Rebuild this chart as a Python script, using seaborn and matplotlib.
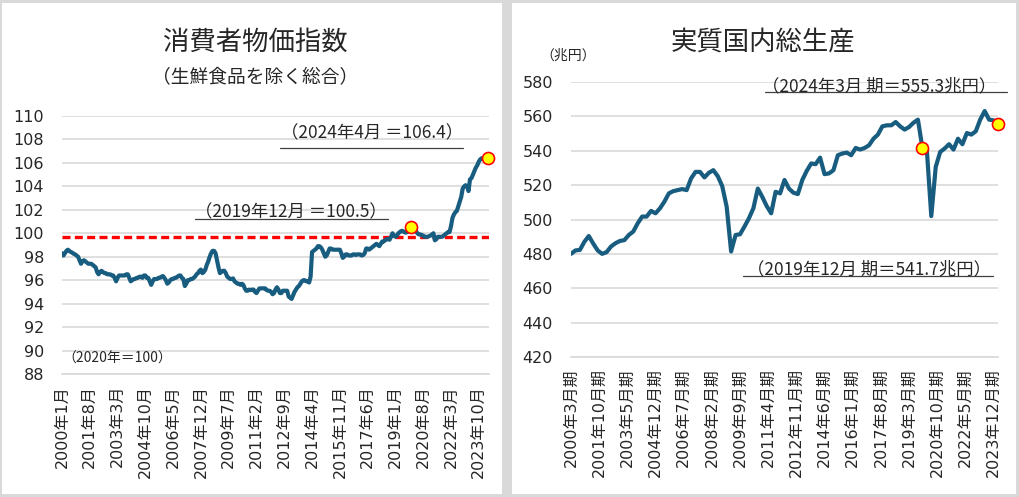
import pandas as pd
import matplotlib
matplotlib.use('Agg')
import matplotlib.pyplot as plt
import seaborn as sns
from matplotlib.patches import Rectangle

# 消費者物価指数（生鮮食品を除く総合, 2020年=100）月次 2000年1月〜2024年4月
cpi_2000 = [98.3, 98.1, 98.3, 98.5, 98.6, 98.5, 98.4, 98.35, 98.25, 98.2, 98.1, 98.0]
cpi_2001 = [97.7, 97.4, 97.6, 97.7, 97.6, 97.5, 97.4, 97.4, 97.4, 97.3, 97.2, 97.1]
cpi_2002 = [96.7, 96.5, 96.7, 96.8, 96.7, 96.6, 96.6, 96.5, 96.5, 96.5, 96.4, 96.4]
cpi_2003 = [96.2, 95.9, 96.2, 96.4, 96.4, 96.4, 96.4, 96.4, 96.5, 96.5, 96.2, 95.9]
cpi_2004 = [96.0, 96.1, 96.1, 96.2, 96.2, 96.3, 96.3, 96.2, 96.4, 96.4, 96.2, 96.2]
cpi_2005 = [95.9, 95.6, 95.9, 96.1, 96.1, 96.1, 96.2, 96.2, 96.3, 96.35, 96.2, 96.0]
cpi_2006 = [95.7, 95.8, 96.0, 96.1, 96.1, 96.2, 96.2, 96.3, 96.4, 96.4, 96.2, 96.1]
cpi_2007 = [95.5, 95.7, 96.0, 96.0, 96.1, 96.1, 96.2, 96.3, 96.5, 96.6, 96.8, 96.9]
cpi_2008 = [96.6, 96.7, 96.9, 97.3, 97.6, 98.0, 98.3, 98.5, 98.5, 98.3, 97.7, 97.1]
cpi_2009 = [96.6, 96.7, 96.8, 96.8, 96.6, 96.3, 96.2, 96.1, 96.1, 96.15, 95.9, 95.8]
cpi_2010 = [95.7, 95.7, 95.6, 95.7, 95.6, 95.3, 95.1, 95.1, 95.2, 95.15, 95.2, 95.2]
cpi_2011 = [95.0, 94.9, 95.1, 95.3, 95.3, 95.3, 95.3, 95.3, 95.15, 95.1, 95.1, 95.0]
cpi_2012 = [94.8, 94.9, 95.2, 95.4, 95.2, 94.9, 94.9, 95.1, 95.1, 95.1, 95.1, 94.6]
cpi_2013 = [94.5, 94.4, 94.7, 95.0, 95.2, 95.4, 95.5, 95.7, 95.9, 96.0, 96.0, 95.9]
cpi_2014 = [95.9, 95.8, 96.3, 98.4, 98.5, 98.6, 98.7, 98.9, 98.9, 98.8, 98.6, 98.3]
cpi_2015 = [98.0, 98.1, 98.4, 98.7, 98.7, 98.6, 98.6, 98.6, 98.6, 98.6, 98.6, 98.3]
cpi_2016 = [97.9, 98.0, 98.2, 98.2, 98.1, 98.1, 98.1, 98.2, 98.2, 98.15, 98.2, 98.2]
cpi_2017 = [98.2, 98.1, 98.15, 98.3, 98.7, 98.7, 98.6, 98.7, 98.8, 98.9, 99.0, 99.1]
cpi_2018 = [99.0, 98.9, 99.1, 99.3, 99.3, 99.4, 99.5, 99.5, 99.45, 99.7, 100.0, 99.8]
cpi_2019 = [99.7, 99.8, 100.0, 100.1, 100.2, 100.2, 100.1, 100.05, 100.1, 100.2, 100.3, 100.5]
cpi_2020 = [100.4, 100.3, 100.2, 100.0, 99.9, 99.9, 99.85, 99.8, 99.7, 99.7, 99.7, 99.75]
cpi_2021 = [99.8, 99.9, 100.0, 99.4, 99.5, 99.7, 99.7, 99.7, 99.7, 99.8, 99.9, 100.0]
cpi_2022 = [100.1, 100.1, 100.6, 101.3, 101.6, 101.8, 101.9, 102.3, 102.7, 103.1, 103.8, 104.0]
cpi_2023 = [104.1, 104.0, 103.6, 104.6, 104.7, 105.0, 105.3, 105.6, 105.8, 106.1, 106.3, 106.4]
cpi_2024 = [106.4, 106.4, 106.4, 106.4]

cpi_values = (cpi_2000 + cpi_2001 + cpi_2002 + cpi_2003 + cpi_2004 + cpi_2005 + cpi_2006
              + cpi_2007 + cpi_2008 + cpi_2009 + cpi_2010 + cpi_2011 + cpi_2012 + cpi_2013
              + cpi_2014 + cpi_2015 + cpi_2016 + cpi_2017 + cpi_2018 + cpi_2019 + cpi_2020
              + cpi_2021 + cpi_2022 + cpi_2023 + cpi_2024)
cpi_marks = [239, 291]          # 2019年12月, 2024年4月
cpi_base = 99.7                 # 赤い破線

cpi_ticks = ['2000年1月', '2001年8月', '2003年3月', '2004年10月', '2006年5月', '2007年12月',
             '2009年7月', '2011年2月', '2012年9月', '2014年4月', '2015年11月', '2017年6月',
             '2019年1月', '2020年8月', '2022年3月', '2023年10月']

# 実質国内総生産（兆円）四半期 2000年3月期〜2024年3月期
gdp_values = [480.0, 482.0, 482.3, 487.0, 490.4, 486.0, 482.0, 480.0, 481.0, 484.3,
              486.2, 487.5, 488.0, 491.0, 493.0, 497.8, 501.7, 501.7, 505.0, 503.6,
              506.5, 510.4, 515.2, 516.5, 517.1, 517.7, 517.1, 523.9, 527.7, 527.7,
              524.5, 527.2, 528.7, 525.2, 519.4, 507.4, 481.4, 491.0, 491.4, 495.9,
              500.7, 506.5, 518.0, 513.2, 507.8, 503.6, 516.1, 515.2, 523.0, 518.0,
              515.6, 514.8, 523.0, 528.3, 532.6, 532.2, 536.0, 526.4, 526.8, 528.7,
              537.4, 538.4, 538.9, 537.4, 541.6, 540.7, 541.6, 543.2, 547.0, 549.4,
              554.2, 554.8, 554.8, 556.7, 554.2, 552.3, 553.8, 556.3, 558.1, 541.7,
              540.5, 502.0, 530.6, 539.3, 541.3, 543.8, 540.7, 547.0, 543.8, 550.3,
              549.4, 551.3, 558.1, 563.1, 558.1, 557.7, 555.3]
gdp_marks = [79, 96]            # 2019年12月期, 2024年3月期

gdp_ticks = ['2000年3月期', '2001年10月期', '2003年5月期', '2004年12月期', '2006年7月期',
             '2008年2月期', '2009年9月期', '2011年4月期', '2012年11月期', '2014年6月期',
             '2016年1月期', '2017年8月期', '2019年3月期', '2020年10月期', '2022年5月期',
             '2023年12月期']
tick_step = 19

sns.set_style('white')
plt.rcParams['font.family'] = ['DejaVu Sans', 'Noto Sans CJK JP']
jp = ['Noto Sans CJK JP', 'DejaVu Sans']

line_color = '#185d80'
grid_color = '#d9d9d9'

cpi_df = pd.DataFrame({'month': range(len(cpi_values)), 'cpi': cpi_values})
gdp_df = pd.DataFrame({'month': [3 * q for q in range(len(gdp_values))], 'gdp': gdp_values})

fig = plt.figure(figsize=(10.2, 4.97), dpi=100)
fig.patch.set_facecolor('#d9d9d9')
fig.add_artist(Rectangle((2 / 1020, 3 / 497), 500 / 1020, 491 / 497, transform=fig.transFigure,
                         facecolor='white', edgecolor='none', zorder=0))
fig.add_artist(Rectangle((512 / 1020, 3 / 497), 504 / 1020, 491 / 497, transform=fig.transFigure,
                         facecolor='white', edgecolor='none', zorder=0))

ax1 = fig.add_axes([62 / 1020, 1 - 374 / 497, 427 / 1020, 258 / 497])
ax2 = fig.add_axes([571 / 1020, 1 - 357 / 497, 427 / 1020, 275 / 497])

for ax in (ax1, ax2):
    ax.set_facecolor('none')
    ax.yaxis.grid(True, color=grid_color, lw=1.2)
    ax.set_axisbelow(True)
    for s in ('top', 'right', 'left'):
        ax.spines[s].set_visible(False)
    ax.spines['bottom'].set_color(grid_color)
    ax.spines['bottom'].set_linewidth(1.2)
    ax.tick_params(axis='y', length=0, pad=13, labelsize=11.5)
    ax.tick_params(axis='x', length=4, color=grid_color, width=1.2, pad=4, labelsize=11.5)

# 左：消費者物価指数
sns.lineplot(data=cpi_df, x='month', y='cpi', ax=ax1, color=line_color, lw=3, zorder=3)
ax1.axhline(cpi_base, color='#ff0000', lw=2.4, dashes=(2.4, 1.3), zorder=2)
sns.scatterplot(data=cpi_df.iloc[cpi_marks], x='month', y='cpi', ax=ax1, color='#ffff00',
                edgecolor='#ff0000', linewidth=1.2, s=75, zorder=4, clip_on=False)
ax1.set_xlim(0, 292)
ax1.set_ylim(88, 110)
ax1.set_yticks(range(88, 111, 2))
ax1.set_xticks(range(0, len(cpi_ticks) * tick_step, tick_step))
ax1.set_xticklabels(cpi_ticks, rotation=90)
ax1.set_xlabel('')
ax1.set_ylabel('')

ax1.text(212, 108.55, '（2024年4月 ＝106.4）', ha='center', va='center', fontsize=12.5, family=jp)
ax1.plot([149, 274], [107.3, 107.3], color='#404040', lw=0.9, clip_on=False)
ax1.text(156.5, 101.8, '（2019年12月 ＝100.5）', ha='center', va='center', fontsize=12.5, family=jp)
ax1.plot([91, 223], [101.2, 101.2], color='#404040', lw=0.9, clip_on=False)
ax1.text(38, 89.3, '（2020年＝100）', ha='center', va='center', fontsize=10, family=jp)

# 右：実質国内総生産
sns.lineplot(data=gdp_df, x='month', y='gdp', ax=ax2, color=line_color, lw=3, zorder=3)
sns.scatterplot(data=gdp_df.iloc[gdp_marks], x='month', y='gdp', ax=ax2, color='#ffff00',
                edgecolor='#ff0000', linewidth=1.2, s=75, zorder=4, clip_on=False)
ax2.set_xlim(0, 288)
ax2.set_ylim(420, 580)
ax2.set_yticks(range(420, 581, 20))
ax2.set_xticks(range(0, len(gdp_ticks) * tick_step, tick_step))
ax2.set_xticklabels(gdp_ticks, rotation=90)
ax2.set_xlabel('')
ax2.set_ylabel('')

ax2.text(208, 577.7, '（2024年3月 期＝555.3兆円）', ha='center', va='center', fontsize=12.5, family=jp)
ax2.plot([130.7, 293.8], [574.2, 574.2], color='#404040', lw=0.9, clip_on=False)
ax2.text(201, 471.3, '（2019年12月 期＝541.7兆円）', ha='center', va='center', fontsize=12.5, family=jp)
ax2.plot([115.9, 284.4], [467.2, 467.2], color='#404040', lw=0.9, clip_on=False)

fig.text(255 / 1020, 1 - 42 / 497, '消費者物価指数', ha='center', va='center',
         fontsize=19, family=jp)
fig.text(255 / 1020, 1 - 78 / 497, '（生鮮食品を除く総合）', ha='center', va='center',
         fontsize=13.5, family=jp)
fig.text(763 / 1020, 1 - 42 / 497, '実質国内総生産', ha='center', va='center',
         fontsize=19, family=jp)
fig.text(568 / 1020, 1 - 56 / 497, '（兆円）', ha='center', va='center',
         fontsize=10, family=jp)

fig.savefig('out.png', dpi=100, facecolor=fig.get_facecolor())
